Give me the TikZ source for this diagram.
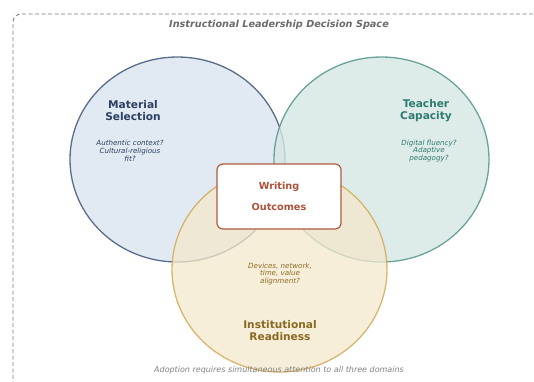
\documentclass[tikz,border=0pt]{standalone}
\usepackage{fontspec}
\setmainfont{DejaVu Sans}
\usetikzlibrary{shapes.geometric}
\definecolor{bluefill}{HTML}{DCE6F0}
\definecolor{bluedraw}{HTML}{4A5E7E}
\definecolor{bluetext}{HTML}{2B3F60}
\definecolor{tealfill}{HTML}{D6E7E3}
\definecolor{tealdraw}{HTML}{5C9A92}
\definecolor{tealtext}{HTML}{2E7A70}
\definecolor{yelfill}{HTML}{F4E8CC}
\definecolor{yeldraw}{HTML}{D2AF62}
\definecolor{yeltext}{HTML}{8A6A22}
\definecolor{boxdraw}{HTML}{B05A40}
\definecolor{boxtext}{HTML}{B0523A}
\definecolor{graytext}{HTML}{6A6A6A}
\tikzset{
  venn/.style={ellipse, minimum width=215pt, minimum height=205pt, line width=1.3pt, fill opacity=0.85, draw opacity=0.9},
  head/.style={font=\fontsize{10.6}{12.5}\selectfont\bfseries, align=center},
  note/.style={font=\fontsize{7.1}{7.8}\selectfont\itshape, align=center},
}
\begin{document}
\begin{tikzpicture}[x=1pt,y=-1pt]
\useasboundingbox (0,0) rectangle (534,381);
\draw[graytext!90, line width=0.8pt, dash pattern=on 4pt off 2.5pt, rounded corners=8pt] (13,392) -- (13,14) -- (545,14);
\node[font=\fontsize{9.7}{11}\selectfont\bfseries\itshape, text=graytext] (title) at (279,25) {Instructional Leadership Decision Space};
\node[venn, fill=bluefill, draw=bluedraw] (mat) at (177.5,159.5) {};
\node[venn, fill=tealfill, draw=tealdraw, fill opacity=0.8] (tea) at (381.5,159.5) {};
\node[venn, fill=yelfill, draw=yeldraw, fill opacity=0.75] (ins) at (279.5,269.5) {};
\node[head, text=bluetext] (matl) at (133,110.5) {Material\\Selection};
\node[note, text=bluetext] (matn) at (130,151) {Authentic context?\\Cultural-religious\\fit?};
\node[head, text=tealtext] (teal) at (426,110.5) {Teacher\\Capacity};
\node[note, text=tealtext] (tean) at (429,151) {Digital fluency?\\Adaptive\\pedagogy?};
\node[note, text=yeltext] (insn) at (280,274) {Devices, network,\\time, value\\alignment?};
\node[head, text=yeltext] (insl) at (280,330.5) {Institutional\\Readiness};
\node[draw=boxdraw, fill=white, line width=1.2pt, rounded corners=6pt, minimum width=124pt, minimum height=65pt, text=boxtext, font=\fontsize{9.7}{21}\selectfont\bfseries, align=center] (out) at (279,196.5) {Writing\\Outcomes};
\node[font=\fontsize{8}{9}\selectfont\itshape, text=graytext!85] (foot) at (279,370) {Adoption requires simultaneous attention to all three domains};
\end{tikzpicture}
\end{document}
